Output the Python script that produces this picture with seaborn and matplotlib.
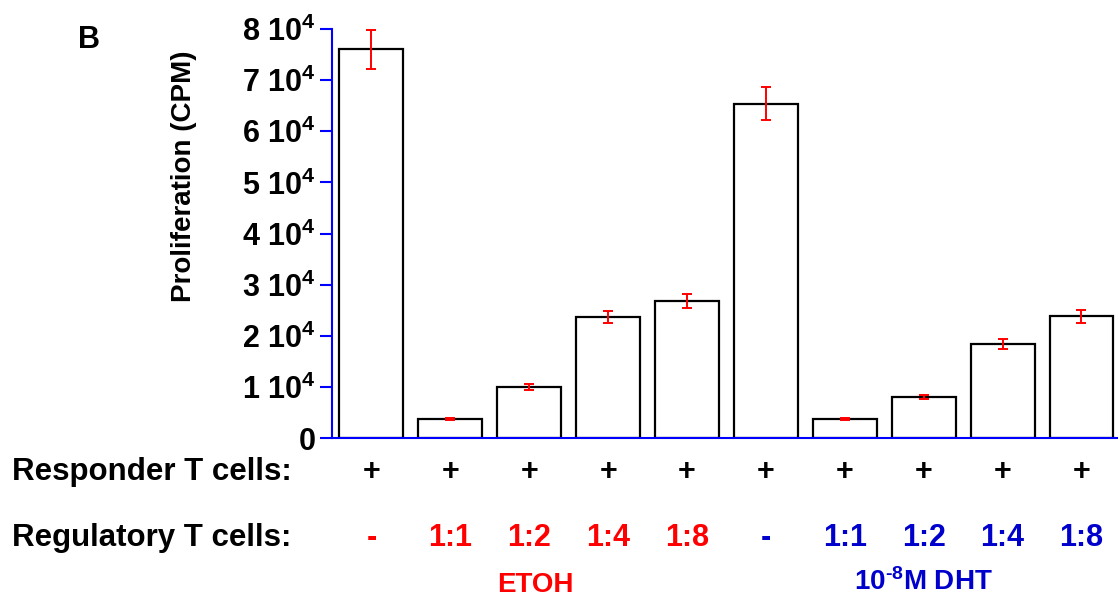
import pandas as pd
import matplotlib
matplotlib.use("Agg")
import matplotlib.pyplot as plt
import seaborn as sns

# values (CPM, units of 10^4)
conditions = ["ETOH -", "ETOH 1:1", "ETOH 1:2", "ETOH 1:4", "ETOH 1:8",
              "DHT -", "DHT 1:1", "DHT 1:2", "DHT 1:4", "DHT 1:8"]
proliferation = [7.60, 0.37, 1.00, 2.37, 2.68, 6.54, 0.38, 0.81, 1.84, 2.38]
sem = [0.38, 0.02, 0.06, 0.12, 0.14, 0.32, 0.02, 0.04, 0.10, 0.13]
responder = ["+"] * 10
regulatory = ["-", "1:1", "1:2", "1:4", "1:8", "-", "1:1", "1:2", "1:4", "1:8"]
label_colors = ["#ff0000"] * 5 + ["#0000cc"] * 5
ytick_vals = [0, 1, 2, 3, 4, 5, 6, 7, 8]
ytick_labels = ["0"] + [f"{v} 10$^{{4}}$" for v in ytick_vals[1:]]

df = pd.DataFrame({"cond": conditions, "cpm": [v * 1e4 for v in proliferation]})

sns.set_style("white")
plt.rcParams["font.family"] = ["Liberation Sans", "DejaVu Sans"]
plt.rcParams["font.weight"] = "bold"
plt.rcParams["text.color"] = "black"
plt.rcParams["axes.labelcolor"] = "black"
plt.rcParams["ytick.labelcolor"] = "black"
plt.rcParams["mathtext.fontset"] = "custom"
plt.rcParams["mathtext.rm"] = "Liberation Sans:bold"
plt.rcParams["mathtext.bf"] = "Liberation Sans:bold"
plt.rcParams["mathtext.it"] = "Liberation Sans:bold"
plt.rcParams["mathtext.default"] = "rm"

fig = plt.figure(figsize=(11.19, 6.01), dpi=100)
ax = fig.add_axes([332 / 1119, 163 / 601, 785 / 1119, 409 / 601])

sns.barplot(data=df, x="cond", y="cpm", color="white", saturation=1,
            edgecolor="black", linewidth=1.6, width=0.81, errorbar=None, ax=ax)
ax.errorbar(range(len(conditions)), df["cpm"], yerr=[s * 1e4 for s in sem],
            fmt="none", ecolor="#ff0000", elinewidth=1.4, capsize=3.8,
            capthick=1.4, zorder=5)

ax.set_xlim(-0.5, 9.45)
ax.set_ylim(0, 80000)
ax.set_yticks([v * 1e4 for v in ytick_vals])
ax.set_yticklabels(ytick_labels, fontsize=22, fontweight="bold", color="black")
ax.set_xticks([])
ax.set_xlabel("")
ax.tick_params(axis="y", direction="out", length=9, width=1.5, color="#0000ff",
               pad=3, left=True)
for side in ["top", "right"]:
    ax.spines[side].set_visible(False)
for side in ["left", "bottom"]:
    ax.spines[side].set_color("#0000ff")
    ax.spines[side].set_linewidth(1.5)

ax.set_ylabel("Proliferation (CPM)", fontsize=20, fontweight="bold", color="black")
ax.yaxis.set_label_coords(-0.172, 0.64)

# rows of labels under the bars
trans = matplotlib.transforms.blended_transform_factory(ax.transData, fig.transFigure)
fig.text(12 / 1119, 1 - 472 / 601, "Responder T cells:", fontsize=22.5,
         fontweight="bold", va="center", ha="left", color="black")
fig.text(12 / 1119, 1 - 538 / 601, "Regulatory T cells:", fontsize=22.5,
         fontweight="bold", va="center", ha="left", color="black")
for i, (r, g, c) in enumerate(zip(responder, regulatory, label_colors)):
    ax.text(i, 1 - 472 / 601, r, transform=trans, fontsize=22,
            fontweight="bold", ha="center", va="center", color="black")
    ax.text(i, 1 - 538 / 601, g, transform=trans, fontsize=22,
            fontweight="bold", ha="center", va="center", color=c)
ax.text(2.08, 1 - 585 / 601, "ETOH", transform=trans, fontsize=20,
        fontweight="bold", ha="center", va="center", color="#ff0000")
ax.text(7.0, 1 - 582 / 601, "10$^{\u20108}$M DHT", transform=trans, fontsize=20,
        fontweight="bold", ha="center", va="center", color="#0000cc")

fig.text(89 / 1119, 1 - 40 / 601, "B", fontsize=22, fontweight="bold",
         ha="center", va="center", color="black")

fig.savefig("out.png", dpi=100)
